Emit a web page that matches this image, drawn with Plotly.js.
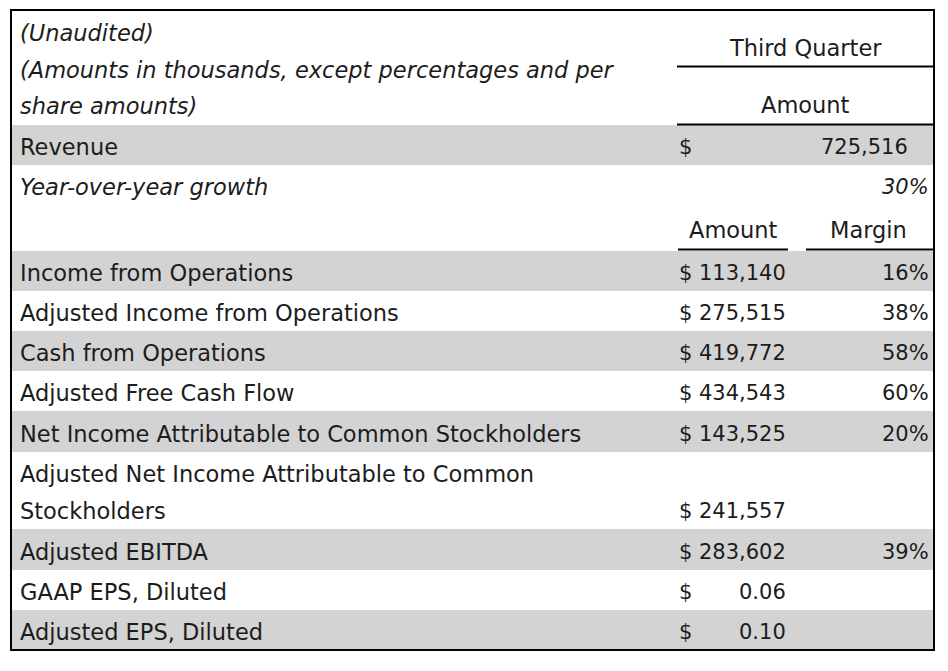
<!DOCTYPE html>
<html><head><meta charset="utf-8">
<script src="https://cdn.plot.ly/plotly-3.0.1.min.js"></script>
<style>html,body{margin:0;padding:0;background:#fff}#chart{width:948px;height:671px}</style>
</head><body><div id="chart"></div>
<script>
// ---- data ----
const headerNote = ["(Unaudited)", "(Amounts in thousands, except percentages and per", "share amounts)"];
const periodTitle = "Third Quarter";
const amountHeader = "Amount";
const marginHeader = "Margin";
const revenueLabel = "Revenue";
const revenueValue = "725,516";
const growthLabel = "Year-over-year growth";
const growthValue = "30%";
const metricLabels = [
  "Income from Operations",
  "Adjusted Income from Operations",
  "Cash from Operations",
  "Adjusted Free Cash Flow",
  "Net Income Attributable to Common Stockholders",
  "Adjusted Net Income Attributable to Common\nStockholders",
  "Adjusted EBITDA",
  "GAAP EPS, Diluted",
  "Adjusted EPS, Diluted"
];
const metricAmounts = ["113,140", "275,515", "419,772", "434,543", "143,525", "241,557", "283,602", "0.06", "0.10"];
const metricMargins = ["16%", "38%", "58%", "60%", "20%", "", "39%", "", ""];

// ---- geometry / style ----
const FONT = "DejaVu Sans";
const FS = 22.5;
const FS_NUM = 21;
const TXT = "#1c1c1c";
const GRAY = "#d3d3d3";
const L = 11, R = 934, T = 10, B = 650;
const xLabel = 18, xDollar = 677, xAmtRight = 788, xMarginRight = 931, xQCenter = 805;
const metricHeights = [40, 40, 40, 40, 41, 77, 41, 40, 40];
const metricTop0 = 251;

const shapes = [];
const ann = [];
function txt(x, y, s, anchor, italic, size) {
  ann.push({x: x, y: y, xref: 'x', yref: 'y', text: s, showarrow: false,
    xanchor: anchor, yanchor: 'middle',
    font: {family: FONT, size: size || FS, color: TXT, style: italic ? 'italic' : 'normal'}});
}
function band(y0, y1) {
  shapes.push({type: 'rect', xref: 'x', yref: 'y', x0: L, x1: R, y0: y0, y1: y1,
    fillcolor: GRAY, line: {width: 0}, layer: 'below'});
}
function hline(x0, x1, y) {
  shapes.push({type: 'line', xref: 'x', yref: 'y', x0: x0, x1: x1, y0: y, y1: y,
    line: {color: '#000', width: 2}});
}

// header
const noteY = [33, 70, 106];
headerNote.forEach((s, i) => txt(xLabel, noteY[i], s, 'left', true));
txt(xQCenter, 48, periodTitle, 'center');
hline(677, R, 66.5);
txt(xQCenter, 105, amountHeader, 'center');
hline(677, R, 124.5);

// revenue row
band(125, 165);
txt(xLabel, 147, revenueLabel, 'left');
txt(xDollar, 147, "$", 'left', false, FS_NUM);
txt(910, 147, revenueValue, 'right', false, FS_NUM);

// growth row
txt(xLabel, 187, growthLabel, 'left', true);
txt(xMarginRight, 187, growthValue, 'right', true, FS_NUM);

// sub header
txt(733, 230, amountHeader, 'center');
txt(868, 230, marginHeader, 'center');
hline(678, 788, 249.5);
hline(806, R, 249.5);

// metric rows
let rowTop = metricTop0;
metricLabels.forEach((lab, i) => {
  const h = metricHeights[i];
  if (i % 2 === 0) band(rowTop, rowTop + h);
  const lines = lab.split("\n");
  let yv;
  if (lines.length === 1) {
    yv = rowTop + h / 2 + 2;
    txt(xLabel, yv, lab, 'left');
  } else {
    lines.forEach((ln, k) => txt(xLabel, rowTop + 22 + k * 37, ln, 'left'));
    yv = rowTop + 22 + (lines.length - 1) * 37;
  }
  txt(xDollar, yv, "$", 'left', false, FS_NUM);
  txt(xAmtRight, yv, metricAmounts[i], 'right', false, FS_NUM);
  if (metricMargins[i]) txt(xMarginRight, yv, metricMargins[i], 'right', false, FS_NUM);
  rowTop += h;
});

// border
shapes.push({type: 'rect', xref: 'x', yref: 'y', x0: L, x1: R, y0: T, y1: B,
  line: {color: '#000', width: 2}, fillcolor: 'rgba(0,0,0,0)'});

const layout = {
  width: 948, height: 671,
  margin: {l: 0, r: 0, t: 0, b: 0},
  paper_bgcolor: '#fff', plot_bgcolor: '#fff',
  xaxis: {range: [0, 948], visible: false, fixedrange: true},
  yaxis: {range: [671, 0], visible: false, fixedrange: true},
  showlegend: false,
  shapes: shapes,
  annotations: ann
};
Plotly.newPlot('chart', [{x: [], y: [], type: 'scatter', hoverinfo: 'skip'}], layout, {displayModeBar: false, staticPlot: true});
</script>
</body></html>
